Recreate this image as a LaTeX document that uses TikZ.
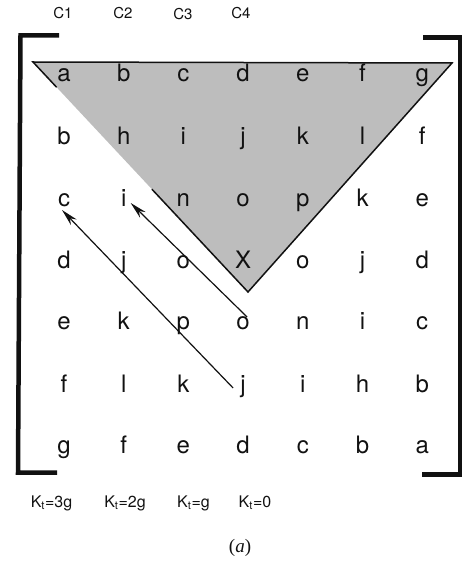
\documentclass[tikz,border=0pt]{standalone}
\usepackage{fontspec}
\setmainfont{TeX Gyre Heros}
\newfontfamily\capfont{Liberation Serif}
\usetikzlibrary{arrows.meta,calc}
\definecolor{ink}{HTML}{111111}
\definecolor{wedgegray}{HTML}{BDBDBD}

\begin{document}
\begin{tikzpicture}[
  x=1pt, y=-1pt, >={Stealth[length=17pt,width=8pt]},
  cell/.style={inner sep=0pt, text height=12.6pt, text depth=0pt, text=ink, font=\fontsize{24}{28}\selectfont},
  head/.style={inner sep=0pt, text=ink, font=\fontsize{15}{18}\selectfont},
  kval/.style={inner sep=0pt, anchor=base, text=ink, font=\fontsize{16}{19}\selectfont},
  edge/.style={draw=ink, line width=1.5pt},
  trace/.style={->, draw=ink, line width=1.2pt},
  bracket/.style={draw=ink, line width=4.5pt},
]
\useasboundingbox (0,0) rectangle (465,561);
% shaded wedge
\coordinate (tl) at (33,62);
\coordinate (tr) at (452,63);
\coordinate (apex) at (248,292);
\fill[wedgegray] (tl) -- (tr) -- (apex) -- cycle;
\draw[edge, line join=miter] ($(tl)!0.11!(apex)$) -- (tl) -- (tr) -- (apex) -- ($(tl)!0.553!(apex)$);

% letter grid
\foreach \row/\yy/\letters in {1/75/{a,b,c,d,e,f,g}, 2/138/{b,h,i,j,k,l,f},
    3/200/{c,i,n,o,p,k,e}, 4/262/{d,j,o,X,o,j,d}, 5/323/{e,k,p,o,n,i,c},
    6/386/{f,l,k,j,i,h,b}, 7/447/{g,f,e,d,c,b,a}}
  \foreach \ch [count=\col] in \letters
    \node[cell] (m\row\col) at ({64+59.7*(\col-1)}, \yy) {\ch};

% column headings
\node[head] (c1) at (63,13) {C1};
\node[head] (c2) at (123,13) {C2};
\node[head] (c3) at (183,14) {C3};
\node[head] (c4) at (241,13) {C4};

% traces
\draw[trace] ($(m64)+(-10,2)$) -- ($(m31)+(-2,10)$);
\draw[trace] ($(m54)+(4,-6)$) -- ($(m32)+(7,3)$);

% brackets
\draw[bracket] (59,35.5) -- (20.5,35.5) -- (18,472.5) -- (57,472.5);
\draw[bracket] (423,37.5) -- (460,37.5) -- (460,474.5) -- (422,474.5);

% K values
\node[kval] (k3) at (51.5,507) {K\textsubscript{t}=3g};
\node[kval] (k2) at (125,507) {K\textsubscript{t}=2g};
\node[kval] (k1) at (193.5,507) {K\textsubscript{t}=g};
\node[kval] (k0) at (255,507) {K\textsubscript{t}=0};

\node[text=ink, inner sep=0pt, font=\capfont\fontsize{19}{22}\selectfont] (cap) at (240,548) {(\textit{a})};
\end{tikzpicture}
\end{document}
